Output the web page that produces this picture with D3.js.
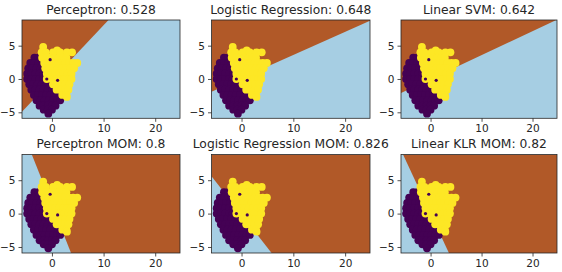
<!DOCTYPE html>
<html>
<head>
<meta charset="utf-8">
<script src="https://cdn.jsdelivr.net/npm/d3@7"></script>
<style>
  body { margin: 0; background: #fff; }
  svg { display: block; font-family: "DejaVu Sans", sans-serif; }
</style>
</head>
<body>
<div id="chart"></div>
<script>
// titles of the six classifiers
const titles = [
    "Perceptron: 0.528", "Logistic Regression: 0.648", "Linear SVM: 0.642",
    "Perceptron MOM: 0.8", "Logistic Regression MOM: 0.826", "Linear KLR MOM: 0.82"
];

// decision boundary of each model, two points on the line (data units)
const boundaryStart = [[-5.8, -4.9], [-5.8, -1.9], [-5.8, -2.1], [-3.9, 8.85], [-5.8, 5.6], [-5.4, 8.85]];
const boundaryEnd = [[10.95, 8.85], [24.8, 8.75], [24.8, 8.9], [3.7, -5.9], [5.8, -5.9], [3.6, -5.9]];
// a point lying in the brown (class 1) region
const brownSide = [[-5, 8], [-5, 8], [-5, 8], [20, 0], [20, 0], [20, 0]];

const xTicks = [0, 10, 20];
const yTicks = [-5, 0, 5];

// class 0 points
const purplePoints = [
    [-3.4, 3.2], [-2.6, 3.2],
    [-4.2, 2.4], [-3.4, 2.4], [-2.6, 2.4], [-1.9, 2.4],
    [-4.6, 1.6], [-3.8, 1.6], [-3.0, 1.6], [-2.2, 1.6], [-1.6, 1.6],
    [-4.8, 0.8], [-4.0, 0.8], [-3.2, 0.8], [-2.4, 0.8], [-1.6, 0.8],
    [-4.8, 0.0], [-4.0, 0.0], [-3.2, 0.0], [-2.4, 0.0], [-1.7, 0.0],
    [-4.4, -0.8], [-3.6, -0.8], [-2.8, -0.8], [-2.0, -0.8], [-1.2, -0.8], [-0.6, -0.8],
    [-4.0, -1.6], [-3.2, -1.6], [-2.4, -1.6], [-1.6, -1.6], [-0.8, -1.6], [0.0, -1.6], [0.4, -1.6],
    [-3.5, -2.4], [-2.7, -2.4], [-1.9, -2.4], [-1.1, -2.4], [-0.3, -2.4], [0.5, -2.4], [1.3, -2.4], [2.1, -2.4],
    [-3.0, -3.2], [-2.2, -3.2], [-1.4, -3.2], [-0.6, -3.2], [0.2, -3.2], [1.0, -3.2], [1.6, -3.2],
    [-2.4, -4.0], [-1.6, -4.0], [-0.8, -4.0], [0.0, -4.0], [0.7, -4.0],
    [-1.6, -4.6], [-0.8, -4.6], [0.0, -4.6],
    [-0.7, -5.2]
];

// class 1 points
const yellowPoints = [
    [-1.7, 4.8], [1.0, 4.3],
    [-2.0, 4.0], [-1.2, 4.0], [0.2, 4.0], [1.6, 4.0], [2.9, 4.0], [3.9, 4.0],
    [-1.9, 3.2], [-1.1, 3.2], [-0.3, 3.2], [0.5, 3.2], [1.3, 3.2], [2.1, 3.2], [2.8, 3.2],
    [-1.5, 2.4], [-0.7, 2.4], [0.1, 2.4], [0.9, 2.4], [1.7, 2.4], [2.5, 2.4], [3.3, 2.4], [4.1, 2.4], [4.9, 2.4],
    [-1.3, 1.6], [-0.5, 1.6], [0.3, 1.6], [1.1, 1.6], [1.9, 1.6], [2.7, 1.6], [3.5, 1.6], [4.3, 1.6],
    [-1.0, 0.8], [-0.2, 0.8], [0.6, 0.8], [1.4, 0.8], [2.2, 0.8], [3.0, 0.8], [3.8, 0.8],
    [-1.0, 0.0], [0.0, 0.0], [0.8, 0.0], [1.6, 0.0], [2.4, 0.0], [3.2, 0.0], [3.8, 0.0],
    [0.2, -0.8], [1.0, -0.8], [1.8, -0.8], [2.6, -0.8], [3.4, -0.8],
    [0.9, -1.6], [1.7, -1.6], [2.5, -1.6], [3.2, -1.6],
    [2.0, -2.4], [2.8, -2.4], [2.9, -2.7]
];

// small class 0 specks showing through the yellow cloud
const purpleSpecks = [[-0.35, 2.9], [-1.0, 0.0], [1.1, -0.2]];

const width = 562, height = 272;
const xDomain = [-5.8, 24.8], yDomain = [-5.9, 8.85];
const columns = [[22, 180], [211.5, 370], [401, 557]];
const rows = [[118.3, 20], [253, 154.5]];

const colors = {
    brown: "#b15928",
    blue: "#a6cee3",
    purple: "#440154",
    yellow: "#fde725",
    text: "#262626"
};

// keep the part of polygon poly lying on the same side of line a-b as ref
function clipHalf(poly, a, b, ref) {
    const side = p => (b[0] - a[0]) * (p[1] - a[1]) - (b[1] - a[1]) * (p[0] - a[0]);
    const s = Math.sign(side(ref));
    const out = [];
    for (let i = 0; i < poly.length; i++) {
        const p = poly[i], q = poly[(i + 1) % poly.length];
        const sp = side(p) * s, sq = side(q) * s;
        if (sp >= 0) out.push(p);
        if ((sp >= 0) !== (sq >= 0)) {
            const t = sp / (sp - sq);
            out.push([p[0] + t * (q[0] - p[0]), p[1] + t * (q[1] - p[1])]);
        }
    }
    return out;
}

const svg = d3.select("#chart")
    .append("svg")
    .attr("width", width)
    .attr("height", height);

titles.forEach((title, i) => {
    const col = columns[i % 3], row = rows[Math.floor(i / 3)];
    const x = d3.scaleLinear().domain(xDomain).range(col);
    const y = d3.scaleLinear().domain(yDomain).range(row);

    const g = svg.append("g");
    const clipId = "clip" + i;
    g.append("clipPath").attr("id", clipId)
        .append("rect")
        .attr("x", col[0]).attr("y", row[1])
        .attr("width", col[1] - col[0]).attr("height", row[0] - row[1]);

    const plot = g.append("g").attr("clip-path", `url(#${clipId})`);

    plot.append("rect")
        .attr("x", col[0]).attr("y", row[1])
        .attr("width", col[1] - col[0]).attr("height", row[0] - row[1])
        .attr("fill", colors.blue);

    const box = [[xDomain[0], yDomain[0]], [xDomain[1], yDomain[0]], [xDomain[1], yDomain[1]], [xDomain[0], yDomain[1]]];
    const brownPoly = clipHalf(box, boundaryStart[i], boundaryEnd[i], brownSide[i]);
    plot.append("path")
        .attr("d", d3.line().x(d => x(d[0])).y(d => y(d[1]))(brownPoly) + "Z")
        .attr("fill", colors.brown);

    const drawPoints = (pts, color, r) => {
        plot.append("g").selectAll("circle")
            .data(pts)
            .join("circle")
            .attr("cx", d => x(d[0]))
            .attr("cy", d => y(d[1]))
            .attr("r", r)
            .attr("fill", color);
    };
    drawPoints(purplePoints, colors.purple, 3.9);
    drawPoints(yellowPoints, colors.yellow, 3.9);
    drawPoints(purpleSpecks, colors.purple, 1.6);

    // axes
    const xAxis = g.append("g")
        .attr("transform", `translate(0,${row[0]})`)
        .call(d3.axisBottom(x).tickValues(xTicks).tickSize(3.5).tickPadding(3).tickFormat(d3.format("d")));
    const yAxis = g.append("g")
        .attr("transform", `translate(${col[0]},0)`)
        .call(d3.axisLeft(y).tickValues(yTicks).tickSize(3.5).tickPadding(3)
            .tickFormat(d => d < 0 ? "\u2212" + Math.abs(d) : d));
    [xAxis, yAxis].forEach(a => {
        a.select(".domain").remove();
        a.selectAll("line").attr("stroke", colors.text).attr("stroke-width", 0.8);
        a.selectAll("text").attr("fill", colors.text).attr("font-size", 10.5)
            .attr("font-family", "DejaVu Sans, sans-serif");
    });

    g.append("rect")
        .attr("x", col[0]).attr("y", row[1])
        .attr("width", col[1] - col[0]).attr("height", row[0] - row[1])
        .attr("fill", "none")
        .attr("stroke", colors.text)
        .attr("stroke-width", 0.8);

    g.append("text")
        .attr("x", (col[0] + col[1]) / 2)
        .attr("y", row[1] - 6.5)
        .attr("text-anchor", "middle")
        .attr("font-size", 12.3)
        .attr("fill", colors.text)
        .text(title);
});
</script>
</body>
</html>
